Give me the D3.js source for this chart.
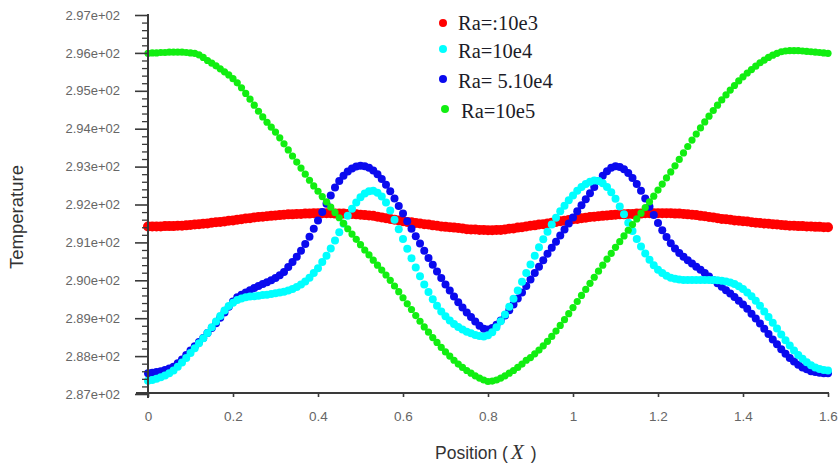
<!DOCTYPE html>
<html><head><meta charset="utf-8">
<script src="https://cdn.jsdelivr.net/npm/d3@7"></script>
<style>html,body{margin:0;padding:0;background:#fff;}svg{display:block;}</style>
</head><body>
<svg id="chart" width="838" height="468"></svg>
<script>
// ---- data ----
const seriesNames = ["Ra=:10e3", "Ra=10e4", "Ra= 5.10e4", "Ra=10e5"];
const seriesColors = ["#ff0000", "#00ffff", "#0a0aee", "#11ee11"];
const positions = d3.range(0, 161).map(i => +(i * 0.01).toFixed(2));
const xTickValues = [0, 0.2, 0.4, 0.6, 0.8, 1, 1.2, 1.4, 1.6];
const xTickLabels = ["0", "0.2", "0.4", "0.6", "0.8", "1", "1.2", "1.4", "1.6"];
const yTickValues = [287, 288, 289, 290, 291, 292, 293, 294, 295, 296, 297];
const yTickLabels = ["2.87e+02", "2.88e+02", "2.89e+02", "2.90e+02", "2.91e+02", "2.92e+02", "2.93e+02", "2.94e+02", "2.95e+02", "2.96e+02", "2.97e+02"];

const ra1e3 = [291.42,291.42,291.42,291.42,291.43,291.43,291.43,291.44,291.44,291.45,291.46,
291.47,291.48,291.49,291.50,291.52,291.53,291.54,291.55,291.57,291.58,
291.60,291.61,291.63,291.64,291.66,291.67,291.68,291.69,291.70,291.71,
291.72,291.73,291.74,291.74,291.75,291.75,291.76,291.76,291.77,291.77,
291.77,291.77,291.77,291.76,291.76,291.76,291.75,291.75,291.74,291.73,
291.72,291.71,291.70,291.68,291.66,291.64,291.62,291.60,291.58,291.56,
291.54,291.53,291.51,291.50,291.48,291.47,291.45,291.44,291.42,291.41,
291.40,291.39,291.38,291.37,291.35,291.34,291.34,291.33,291.33,291.32,
291.32,291.33,291.33,291.34,291.36,291.37,291.39,291.40,291.42,291.44,
291.45,291.47,291.48,291.50,291.52,291.54,291.56,291.57,291.59,291.61,
291.62,291.64,291.65,291.67,291.68,291.69,291.70,291.71,291.72,291.73,
291.74,291.74,291.75,291.75,291.76,291.76,291.77,291.77,291.77,291.77,
291.77,291.77,291.77,291.76,291.76,291.75,291.74,291.73,291.72,291.70,
291.69,291.67,291.66,291.64,291.62,291.61,291.60,291.58,291.57,291.56,
291.55,291.53,291.52,291.51,291.50,291.49,291.48,291.47,291.46,291.45,
291.44,291.44,291.43,291.43,291.42,291.42,291.41,291.41,291.40,291.40];

const ra1e4 = [287.35,287.37,287.40,287.44,287.49,287.55,287.62,287.72,287.83,287.95,288.08,
288.21,288.34,288.47,288.61,288.76,288.91,289.06,289.20,289.32,289.41,
289.48,289.52,289.55,289.57,289.58,289.59,289.61,289.62,289.64,289.66,
289.68,289.70,289.73,289.77,289.82,289.89,289.97,290.07,290.19,290.32,
290.48,290.65,290.84,291.05,291.27,291.49,291.70,291.89,292.05,292.19,
292.29,292.35,292.36,292.31,292.21,292.05,291.84,291.60,291.35,291.09,
290.83,290.58,290.34,290.11,289.89,289.69,289.50,289.33,289.18,289.05,
288.94,288.85,288.77,288.70,288.64,288.60,288.56,288.53,288.52,288.55,
288.63,288.76,288.92,289.10,289.30,289.51,289.73,289.96,290.19,290.42,
290.65,290.87,291.08,291.28,291.47,291.65,291.82,291.97,292.11,292.24,
292.36,292.46,292.54,292.60,292.63,292.62,292.56,292.46,292.32,292.15,
291.95,291.74,291.52,291.30,291.09,290.89,290.71,290.54,290.40,290.28,
290.19,290.12,290.07,290.04,290.02,290.01,290.01,290.01,290.01,290.01,
290.01,290.01,290.01,290.00,289.99,289.97,289.94,289.90,289.84,289.77,
289.68,289.58,289.46,289.33,289.18,289.03,288.88,288.73,288.57,288.42,
288.28,288.15,288.03,287.93,287.84,287.76,287.70,287.66,287.63,287.62];

const ra5e4 = [287.55,287.56,287.58,287.60,287.63,287.67,287.72,287.81,287.91,288.03,288.15,
288.26,288.37,288.48,288.61,288.74,288.87,289.01,289.15,289.30,289.44,
289.55,289.62,289.68,289.74,289.80,289.85,289.90,289.95,290.00,290.06,
290.13,290.22,290.35,290.48,290.62,290.78,290.96,291.15,291.36,291.58,
291.80,292.02,292.24,292.45,292.62,292.76,292.87,292.95,293.00,293.02,
293.01,292.97,292.90,292.80,292.67,292.52,292.35,292.16,291.96,291.76,
291.56,291.36,291.16,290.97,290.78,290.59,290.41,290.23,290.06,289.89,
289.73,289.57,289.42,289.28,289.15,289.03,288.91,288.80,288.72,288.70,
288.74,288.83,288.94,289.07,289.21,289.36,289.52,289.68,289.85,290.02,
290.19,290.36,290.53,290.70,290.86,291.02,291.18,291.34,291.50,291.66,
291.82,291.98,292.14,292.30,292.46,292.62,292.76,292.88,292.97,293.01,
292.99,292.93,292.83,292.70,292.54,292.36,292.16,291.94,291.72,291.51,
291.32,291.14,290.98,290.84,290.72,290.62,290.53,290.44,290.36,290.28,
290.19,290.10,290.01,289.92,289.83,289.74,289.65,289.56,289.46,289.36,
289.25,289.12,288.99,288.86,288.72,288.58,288.44,288.31,288.18,288.06,
287.95,287.86,287.77,287.70,287.65,287.60,287.58,287.56,287.55,287.55];

const ra1e5 = [295.99,296.00,296.00,296.01,296.01,296.02,296.02,296.02,296.02,296.01,296.00,
295.99,295.95,295.88,295.80,295.73,295.66,295.58,295.50,295.42,295.32,
295.21,295.08,294.93,294.78,294.62,294.46,294.31,294.17,294.04,293.91,
293.76,293.60,293.44,293.28,293.12,292.96,292.80,292.64,292.49,292.35,
292.21,292.07,291.93,291.79,291.65,291.50,291.36,291.22,291.08,290.94,
290.80,290.67,290.53,290.40,290.27,290.14,290.00,289.85,289.70,289.54,
289.38,289.23,289.07,288.92,288.77,288.63,288.49,288.36,288.23,288.11,
288.00,287.89,287.79,287.70,287.62,287.55,287.48,287.42,287.37,287.33,
287.34,287.37,287.42,287.48,287.55,287.62,287.70,287.79,287.89,287.96,
288.06,288.16,288.27,288.39,288.52,288.66,288.81,288.96,289.12,289.28,
289.44,289.60,289.76,289.92,290.08,290.24,290.40,290.56,290.71,290.87,
291.02,291.17,291.32,291.47,291.62,291.77,291.92,292.07,292.22,292.38,
292.54,292.70,292.86,293.02,293.19,293.36,293.53,293.70,293.86,294.02,
294.18,294.33,294.48,294.62,294.76,294.89,295.02,295.14,295.26,295.37,
295.47,295.56,295.65,295.74,295.81,295.88,295.94,295.99,296.03,296.05,
296.06,296.06,296.06,296.05,296.04,296.03,296.02,296.01,296.00,295.99];

const seriesData = [ra1e3, ra1e4, ra5e4, ra1e5];
const drawOrder = [0, 2, 1, 3];
const dotRadius = [5, 4, 4, 3.6];

// ---- chart ----
const svg = d3.select("#chart");
const x = d3.scaleLinear().domain([0, 1.6]).range([148, 828]);
const y = d3.scaleLinear().domain([287, 297]).range([394, 15]);
const axisColor = "#3a3a3a";
const tickFont = "'Liberation Sans', Arial, sans-serif";

// dots
drawOrder.forEach(si => {
  svg.append("g").selectAll("circle")
    .data(seriesData[si].map((v, i) => [positions[i], v]))
    .join("circle")
    .attr("cx", d => x(d[0]))
    .attr("cy", d => y(d[1]))
    .attr("r", dotRadius[si])
    .attr("fill", seriesColors[si]);
});

// minor y ticks
const minorVals = [];
for (let i = 0; i < yTickValues.length - 1; i++) {
  for (let k = 1; k < 5; k++) minorVals.push(yTickValues[i] + k * 0.2);
}
svg.append("g").attr("transform", "translate(148,0)")
  .call(d3.axisLeft(y).tickValues(minorVals).tickSize(6).tickFormat(""))
  .call(g => g.select(".domain").remove())
  .call(g => g.selectAll("line").attr("stroke", axisColor).attr("stroke-width", 1.3));

// y axis
const yAxis = svg.append("g").attr("transform", "translate(148,0)")
  .call(d3.axisLeft(y).tickValues(yTickValues).tickSize(13).tickPadding(15)
    .tickFormat((d, i) => yTickLabels[i]));
yAxis.select(".domain").remove();
yAxis.selectAll("line").attr("stroke", axisColor).attr("stroke-width", 1.6);
yAxis.selectAll("text").attr("fill", "#666").attr("font-size", 13)
  .attr("font-family", tickFont);
svg.append("line").attr("x1", 148).attr("x2", 148).attr("y1", y(297) - 1).attr("y2", 398)
  .attr("stroke", axisColor).attr("stroke-width", 2);

// x axis
const xAxis = svg.append("g").attr("transform", "translate(0,393)")
  .call(d3.axisBottom(x).tickValues(xTickValues).tickSize(4).tickPadding(14)
    .tickFormat((d, i) => xTickLabels[i]));
xAxis.select(".domain").remove();
xAxis.selectAll("line").attr("stroke", axisColor).attr("stroke-width", 1.6);
xAxis.selectAll("text").attr("fill", "#666").attr("font-size", 13.5)
  .attr("font-family", tickFont);
svg.append("line").attr("x1", 136).attr("x2", 829).attr("y1", 393).attr("y2", 393)
  .attr("stroke", axisColor).attr("stroke-width", 2);

// axis titles
const xt = svg.append("text").attr("x", 435).attr("y", 459)
  .attr("font-family", tickFont).attr("font-size", 17.5).attr("fill", "#333");
xt.append("tspan").text("Position (");
xt.append("tspan").attr("font-family", "'Liberation Serif', 'Times New Roman', serif")
  .attr("font-style", "italic").attr("font-size", 21).attr("dx", 3).text("X");
xt.append("tspan").attr("dx", 2).text(" )");

svg.append("text")
  .attr("transform", "translate(23,217) rotate(-90)")
  .attr("text-anchor", "middle")
  .attr("font-family", tickFont).attr("font-size", 18.5).attr("fill", "#333")
  .text("Temperature");

// legend
const legendY = [23, 49, 79, 109];
const legendTextY = [30, 58, 88, 118];
const legendMarkerX = [443, 443, 443, 445];
const legendTextX = [458, 458, 458, 461];
seriesNames.forEach((name, i) => {
  svg.append("circle").attr("cx", legendMarkerX[i]).attr("cy", legendY[i]).attr("r", 4)
    .attr("fill", seriesColors[i]);
  svg.append("text").attr("x", legendTextX[i]).attr("y", legendTextY[i])
    .attr("font-family", "'Liberation Serif', 'Times New Roman', serif")
    .attr("font-size", 20.5).attr("fill", "#1c1c28")
    .text(name);
});
</script>
</body></html>
